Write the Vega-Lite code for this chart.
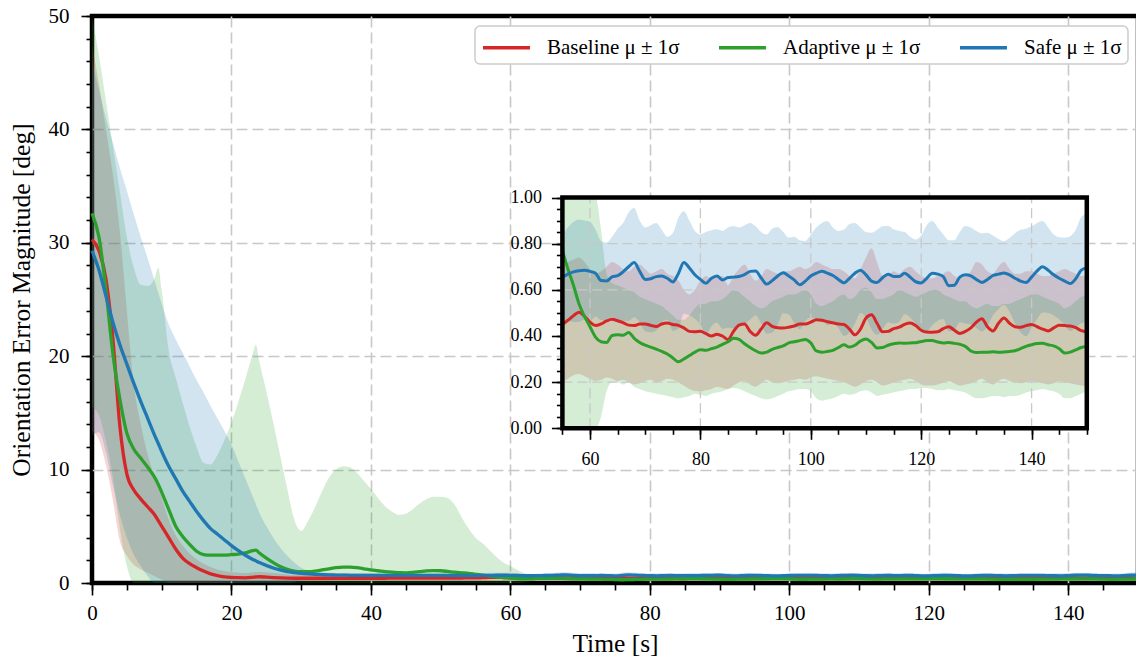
{
"$schema": "https://vega.github.io/schema/vega-lite/v6.json",
"width": 1046,
"height": 567,
"autosize": {"type": "none"},
"padding": {"left": 92, "top": 16, "right": -2, "bottom": 80},
"background": "white",
"config": {
  "font": "Liberation Serif",
  "view": {"stroke": "black", "strokeWidth": 4.5},
  "axis": {"labelFont": "Liberation Serif", "titleFont": "Liberation Serif", "labelColor": "black", "titleColor": "black", "titleFontWeight": "normal", "tickColor": "black", "tickWidth": 1.6, "domain": false, "gridColor": "#c8c8c8", "gridDash": [11, 5], "gridWidth": 1.6, "labelOverlap": false, "labelFlush": false},
  "legend": {"orient": "top-right", "direction": "horizontal", "offset": 10, "padding": 6, "strokeColor": "#cccccc", "strokeWidth": 1.5, "cornerRadius": 5, "fillColor": "white", "labelFont": "Liberation Serif", "labelFontSize": 21, "labelColor": "black", "symbolSize": 729, "symbolStrokeWidth": 3.5, "symbolType": "M-1,0H2.48", "labelOffset": 35, "columnPadding": 32, "labelLimit": 300}
},
"datasets": {
"ts": [
{"t":0,"rm":30.3,"rl":13.4,"rh":47.5,"gm":32.6,"gl":15.5,"gh":50,"bm":29.3,"bl":13,"bh":46},
{"t":1,"rm":29.3,"rl":12.6,"rh":44,"gm":30.5,"gl":14.8,"gh":46.5,"bm":27.6,"bl":13.3,"bh":43.5},
{"t":2,"rm":26.8,"rl":10.4,"rh":40,"gm":25.8,"gl":12.5,"gh":42.5,"bm":25.3,"bl":11.5,"bh":41},
{"t":3,"rm":21.5,"rl":7.3,"rh":36,"gm":20.2,"gl":9.3,"gh":38.5,"bm":23,"bl":8.6,"bh":38.8},
{"t":4,"rm":13.8,"rl":3.7,"rh":31,"gm":16.2,"gl":4.8,"gh":34.5,"bm":21,"bl":6,"bh":36.6},
{"t":5,"rm":9.6,"rl":2.4,"rh":24,"gm":13.2,"gl":1.5,"gh":30.5,"bm":19.3,"bl":4,"bh":34.6},
{"t":6,"rm":8.2,"rl":1.6,"rh":17.5,"gm":11.8,"gl":0,"gh":27.8,"bm":17.6,"bl":2.5,"bh":32.5},
{"t":7,"rm":7.4,"rl":1.2,"rh":14,"gm":11,"gl":0,"gh":26.3,"bm":16,"bl":1.5,"bh":30.5},
{"t":8,"rm":6.7,"rl":0.9,"rh":11.3,"gm":10.2,"gl":0,"gh":26.2,"bm":14.5,"bl":0.6,"bh":28.6},
{"t":9,"rm":6,"rl":0.6,"rh":9.3,"gm":9.3,"gl":0,"gh":26.9,"bm":13,"bl":0,"bh":26.6},
{"t":9.5,"rm":5.5,"rl":0.45,"rh":8.4,"gm":8.7,"gl":0,"gh":27.8,"bm":12.3,"bl":0,"bh":25.6},
{"t":10,"rm":5,"rl":0.3,"rh":7.5,"gm":8,"gl":0,"gh":25.8,"bm":11.6,"bl":0,"bh":24.6},
{"t":11,"rm":4,"rl":0,"rh":5.6,"gm":6.5,"gl":0,"gh":20.5,"bm":10.3,"bl":0,"bh":22.8},
{"t":12,"rm":3,"rl":0,"rh":4.2,"gm":5,"gl":0,"gh":18.1,"bm":9.2,"bl":0,"bh":21.5},
{"t":13,"rm":2.2,"rl":0,"rh":3.3,"gm":4.1,"gl":0,"gh":15.9,"bm":8.1,"bl":0,"bh":20.3},
{"t":14,"rm":1.7,"rl":0,"rh":2.6,"gm":3.4,"gl":0,"gh":13.8,"bm":7.2,"bl":0,"bh":19.1},
{"t":15,"rm":1.35,"rl":0,"rh":2.1,"gm":2.8,"gl":0,"gh":12,"bm":6.3,"bl":0,"bh":17.9},
{"t":16,"rm":1.05,"rl":0,"rh":1.7,"gm":2.5,"gl":0,"gh":10.6,"bm":5.5,"bl":0,"bh":16.8},
{"t":17,"rm":0.8,"rl":0,"rh":1.4,"gm":2.45,"gl":0,"gh":10.45,"bm":4.8,"bl":0,"bh":15.6},
{"t":18,"rm":0.65,"rl":0,"rh":1.2,"gm":2.45,"gl":0,"gh":11.3,"bm":4.3,"bl":0,"bh":14.5},
{"t":19,"rm":0.55,"rl":0,"rh":1.05,"gm":2.45,"gl":0,"gh":12.6,"bm":3.8,"bl":0,"bh":13.4},
{"t":20,"rm":0.5,"rl":0.05,"rh":0.95,"gm":2.5,"gl":0,"gh":14.1,"bm":3.3,"bl":0,"bh":12.2},
{"t":21,"rm":0.47,"rl":0.05,"rh":0.9,"gm":2.55,"gl":0,"gh":16,"bm":2.85,"bl":0,"bh":10.7},
{"t":22,"rm":0.46,"rl":0.05,"rh":0.88,"gm":2.65,"gl":0,"gh":18,"bm":2.45,"bl":0,"bh":9.2},
{"t":23,"rm":0.5,"rl":0.08,"rh":0.92,"gm":2.85,"gl":0,"gh":20.1,"bm":2.1,"bl":0,"bh":7.7},
{"t":23.5,"rm":0.53,"rl":0.09,"rh":0.96,"gm":2.9,"gl":0,"gh":21,"bm":1.95,"bl":0,"bh":6.95},
{"t":24,"rm":0.55,"rl":0.1,"rh":1,"gm":2.65,"gl":0,"gh":19.5,"bm":1.8,"bl":0,"bh":6.2},
{"t":25,"rm":0.52,"rl":0.1,"rh":0.95,"gm":2.2,"gl":0,"gh":16.9,"bm":1.55,"bl":0,"bh":5},
{"t":26,"rm":0.48,"rl":0.1,"rh":0.88,"gm":1.8,"gl":0,"gh":14.1,"bm":1.32,"bl":0,"bh":4},
{"t":27,"rm":0.45,"rl":0.1,"rh":0.82,"gm":1.45,"gl":0,"gh":11.2,"bm":1.15,"bl":0,"bh":3.1},
{"t":28,"rm":0.43,"rl":0.12,"rh":0.76,"gm":1.2,"gl":0,"gh":8.3,"bm":1,"bl":0,"bh":2.4},
{"t":29,"rm":0.42,"rl":0.13,"rh":0.72,"gm":1.05,"gl":0,"gh":5.6,"bm":0.92,"bl":0.05,"bh":1.8},
{"t":30,"rm":0.42,"rl":0.15,"rh":0.7,"gm":1,"gl":0,"gh":4.6,"bm":0.85,"bl":0.3,"bh":1.35},
{"t":31,"rm":0.42,"rl":0.16,"rh":0.69,"gm":1,"gl":0,"gh":5.5,"bm":0.8,"bl":0.45,"bh":1.1},
{"t":32,"rm":0.42,"rl":0.17,"rh":0.68,"gm":1.05,"gl":0,"gh":6.7,"bm":0.76,"bl":0.5,"bh":1},
{"t":33,"rm":0.42,"rl":0.18,"rh":0.68,"gm":1.15,"gl":0,"gh":8.1,"bm":0.73,"bl":0.5,"bh":0.95},
{"t":34,"rm":0.42,"rl":0.18,"rh":0.67,"gm":1.25,"gl":0,"gh":9.3,"bm":0.71,"bl":0.5,"bh":0.9},
{"t":35,"rm":0.42,"rl":0.19,"rh":0.67,"gm":1.35,"gl":0,"gh":10,"bm":0.7,"bl":0.5,"bh":0.89},
{"t":36,"rm":0.42,"rl":0.19,"rh":0.67,"gm":1.4,"gl":0,"gh":10.3,"bm":0.69,"bl":0.49,"bh":0.88},
{"t":37,"rm":0.42,"rl":0.19,"rh":0.67,"gm":1.4,"gl":0,"gh":10.2,"bm":0.68,"bl":0.48,"bh":0.88},
{"t":38,"rm":0.42,"rl":0.2,"rh":0.67,"gm":1.35,"gl":0,"gh":9.7,"bm":0.68,"bl":0.48,"bh":0.88},
{"t":39,"rm":0.42,"rl":0.2,"rh":0.67,"gm":1.25,"gl":0,"gh":9,"bm":0.68,"bl":0.48,"bh":0.88},
{"t":40,"rm":0.42,"rl":0.2,"rh":0.67,"gm":1.15,"gl":0,"gh":8.3,"bm":0.68,"bl":0.47,"bh":0.88},
{"t":41,"rm":0.42,"rl":0.2,"rh":0.67,"gm":1.08,"gl":0,"gh":7.5,"bm":0.67,"bl":0.47,"bh":0.87},
{"t":42,"rm":0.42,"rl":0.2,"rh":0.67,"gm":1,"gl":0,"gh":6.8,"bm":0.67,"bl":0.47,"bh":0.87},
{"t":43,"rm":0.43,"rl":0.2,"rh":0.67,"gm":0.95,"gl":0,"gh":6.3,"bm":0.67,"bl":0.47,"bh":0.87},
{"t":44,"rm":0.43,"rl":0.2,"rh":0.67,"gm":0.92,"gl":0,"gh":6,"bm":0.67,"bl":0.47,"bh":0.87},
{"t":45,"rm":0.43,"rl":0.2,"rh":0.67,"gm":0.9,"gl":0,"gh":6.1,"bm":0.67,"bl":0.47,"bh":0.87},
{"t":46,"rm":0.43,"rl":0.2,"rh":0.67,"gm":0.93,"gl":0,"gh":6.5,"bm":0.67,"bl":0.47,"bh":0.87},
{"t":47,"rm":0.43,"rl":0.2,"rh":0.67,"gm":1,"gl":0,"gh":7,"bm":0.67,"bl":0.47,"bh":0.87},
{"t":48,"rm":0.43,"rl":0.2,"rh":0.68,"gm":1.07,"gl":0,"gh":7.4,"bm":0.67,"bl":0.47,"bh":0.87},
{"t":49,"rm":0.44,"rl":0.2,"rh":0.68,"gm":1.1,"gl":0,"gh":7.6,"bm":0.67,"bl":0.47,"bh":0.87},
{"t":50,"rm":0.44,"rl":0.2,"rh":0.68,"gm":1.08,"gl":0,"gh":7.6,"bm":0.67,"bl":0.47,"bh":0.87},
{"t":51,"rm":0.44,"rl":0.2,"rh":0.68,"gm":1.02,"gl":0,"gh":7.5,"bm":0.66,"bl":0.47,"bh":0.86},
{"t":52,"rm":0.44,"rl":0.2,"rh":0.69,"gm":0.95,"gl":0,"gh":6.9,"bm":0.66,"bl":0.47,"bh":0.86},
{"t":53,"rm":0.44,"rl":0.2,"rh":0.69,"gm":0.9,"gl":0,"gh":5.8,"bm":0.66,"bl":0.47,"bh":0.85},
{"t":54,"rm":0.45,"rl":0.2,"rh":0.7,"gm":0.85,"gl":0,"gh":4.8,"bm":0.66,"bl":0.47,"bh":0.85},
{"t":55,"rm":0.45,"rl":0.2,"rh":0.7,"gm":0.77,"gl":0,"gh":4,"bm":0.655,"bl":0.47,"bh":0.84},
{"t":56,"rm":0.468,"rl":0.215,"rh":0.72,"gm":0.69,"gl":0,"gh":3.5,"bm":0.668,"bl":0.466,"bh":0.87},
{"t":57,"rm":0.488,"rl":0.23,"rh":0.73,"gm":0.62,"gl":0,"gh":2.9,"bm":0.678,"bl":0.461,"bh":0.895},
{"t":58,"rm":0.503,"rl":0.235,"rh":0.74,"gm":0.54,"gl":0,"gh":2.3,"bm":0.683,"bl":0.461,"bh":0.905},
{"t":59,"rm":0.485,"rl":0.225,"rh":0.72,"gm":0.485,"gl":0,"gh":1.8,"bm":0.685,"bl":0.47,"bh":0.9},
{"t":60,"rm":0.46,"rl":0.215,"rh":0.69,"gm":0.44,"gl":0,"gh":1.5,"bm":0.68,"bl":0.465,"bh":0.895},
{"t":61,"rm":0.445,"rl":0.205,"rh":0.67,"gm":0.395,"gl":0,"gh":1.15,"bm":0.672,"bl":0.484,"bh":0.86},
{"t":62,"rm":0.452,"rl":0.21,"rh":0.68,"gm":0.375,"gl":0.05,"gh":0.86,"bm":0.64,"bl":0.468,"bh":0.812},
{"t":63,"rm":0.465,"rl":0.22,"rh":0.7,"gm":0.372,"gl":0.16,"gh":0.67,"bm":0.638,"bl":0.471,"bh":0.805},
{"t":64,"rm":0.472,"rl":0.215,"rh":0.72,"gm":0.402,"gl":0.2,"gh":0.63,"bm":0.656,"bl":0.482,"bh":0.83},
{"t":65,"rm":0.466,"rl":0.205,"rh":0.71,"gm":0.405,"gl":0.2,"gh":0.62,"bm":0.661,"bl":0.457,"bh":0.865},
{"t":66,"rm":0.458,"rl":0.21,"rh":0.69,"gm":0.403,"gl":0.19,"gh":0.61,"bm":0.678,"bl":0.466,"bh":0.89},
{"t":67,"rm":0.447,"rl":0.2,"rh":0.68,"gm":0.415,"gl":0.2,"gh":0.6,"bm":0.7,"bl":0.465,"bh":0.935},
{"t":68,"rm":0.445,"rl":0.19,"rh":0.7,"gm":0.39,"gl":0.18,"gh":0.59,"bm":0.718,"bl":0.481,"bh":0.955},
{"t":69,"rm":0.452,"rl":0.195,"rh":0.71,"gm":0.372,"gl":0.17,"gh":0.57,"bm":0.68,"bl":0.46,"bh":0.9},
{"t":70,"rm":0.452,"rl":0.205,"rh":0.69,"gm":0.36,"gl":0.16,"gh":0.56,"bm":0.645,"bl":0.42,"bh":0.87},
{"t":71,"rm":0.446,"rl":0.21,"rh":0.67,"gm":0.352,"gl":0.155,"gh":0.55,"bm":0.648,"bl":0.416,"bh":0.88},
{"t":72,"rm":0.441,"rl":0.2,"rh":0.68,"gm":0.343,"gl":0.15,"gh":0.54,"bm":0.657,"bl":0.424,"bh":0.89},
{"t":73,"rm":0.452,"rl":0.205,"rh":0.69,"gm":0.333,"gl":0.145,"gh":0.53,"bm":0.66,"bl":0.46,"bh":0.86},
{"t":74,"rm":0.456,"rl":0.215,"rh":0.67,"gm":0.322,"gl":0.14,"gh":0.51,"bm":0.65,"bl":0.47,"bh":0.83},
{"t":75,"rm":0.45,"rl":0.21,"rh":0.66,"gm":0.305,"gl":0.135,"gh":0.49,"bm":0.634,"bl":0.423,"bh":0.845},
{"t":76,"rm":0.446,"rl":0.2,"rh":0.64,"gm":0.288,"gl":0.13,"gh":0.47,"bm":0.67,"bl":0.43,"bh":0.91},
{"t":77,"rm":0.435,"rl":0.185,"rh":0.6,"gm":0.3,"gl":0.135,"gh":0.47,"bm":0.718,"bl":0.496,"bh":0.94},
{"t":78,"rm":0.42,"rl":0.17,"rh":0.58,"gm":0.315,"gl":0.14,"gh":0.49,"bm":0.695,"bl":0.49,"bh":0.9},
{"t":79,"rm":0.418,"rl":0.162,"rh":0.6,"gm":0.33,"gl":0.15,"gh":0.52,"bm":0.665,"bl":0.475,"bh":0.855},
{"t":80,"rm":0.42,"rl":0.16,"rh":0.64,"gm":0.34,"gl":0.145,"gh":0.54,"bm":0.645,"bl":0.45,"bh":0.84},
{"t":81,"rm":0.41,"rl":0.165,"rh":0.66,"gm":0.338,"gl":0.14,"gh":0.54,"bm":0.628,"bl":0.406,"bh":0.85},
{"t":82,"rm":0.4,"rl":0.17,"rh":0.65,"gm":0.345,"gl":0.15,"gh":0.55,"bm":0.65,"bl":0.442,"bh":0.858},
{"t":83,"rm":0.408,"rl":0.18,"rh":0.66,"gm":0.352,"gl":0.155,"gh":0.55,"bm":0.66,"bl":0.458,"bh":0.862},
{"t":84,"rm":0.4,"rl":0.175,"rh":0.66,"gm":0.364,"gl":0.16,"gh":0.56,"bm":0.643,"bl":0.431,"bh":0.855},
{"t":85,"rm":0.385,"rl":0.17,"rh":0.62,"gm":0.375,"gl":0.17,"gh":0.58,"bm":0.653,"bl":0.436,"bh":0.87},
{"t":86,"rm":0.42,"rl":0.185,"rh":0.66,"gm":0.39,"gl":0.175,"gh":0.6,"bm":0.655,"bl":0.434,"bh":0.876},
{"t":87,"rm":0.447,"rl":0.2,"rh":0.69,"gm":0.385,"gl":0.17,"gh":0.59,"bm":0.658,"bl":0.446,"bh":0.87},
{"t":88,"rm":0.452,"rl":0.205,"rh":0.71,"gm":0.366,"gl":0.16,"gh":0.57,"bm":0.666,"bl":0.452,"bh":0.88},
{"t":89,"rm":0.42,"rl":0.19,"rh":0.67,"gm":0.35,"gl":0.15,"gh":0.55,"bm":0.68,"bl":0.47,"bh":0.89},
{"t":90,"rm":0.403,"rl":0.18,"rh":0.64,"gm":0.336,"gl":0.14,"gh":0.53,"bm":0.682,"bl":0.489,"bh":0.875},
{"t":91,"rm":0.43,"rl":0.195,"rh":0.66,"gm":0.326,"gl":0.13,"gh":0.52,"bm":0.652,"bl":0.454,"bh":0.85},
{"t":92,"rm":0.457,"rl":0.21,"rh":0.69,"gm":0.33,"gl":0.125,"gh":0.53,"bm":0.625,"bl":0.41,"bh":0.84},
{"t":93,"rm":0.442,"rl":0.2,"rh":0.68,"gm":0.342,"gl":0.13,"gh":0.55,"bm":0.64,"bl":0.415,"bh":0.865},
{"t":94,"rm":0.436,"rl":0.195,"rh":0.67,"gm":0.35,"gl":0.14,"gh":0.56,"bm":0.66,"bl":0.448,"bh":0.872},
{"t":95,"rm":0.435,"rl":0.2,"rh":0.68,"gm":0.357,"gl":0.15,"gh":0.57,"bm":0.674,"bl":0.498,"bh":0.85},
{"t":96,"rm":0.438,"rl":0.205,"rh":0.68,"gm":0.37,"gl":0.16,"gh":0.58,"bm":0.66,"bl":0.494,"bh":0.826},
{"t":97,"rm":0.443,"rl":0.21,"rh":0.69,"gm":0.375,"gl":0.165,"gh":0.58,"bm":0.643,"bl":0.456,"bh":0.83},
{"t":98,"rm":0.452,"rl":0.215,"rh":0.7,"gm":0.38,"gl":0.17,"gh":0.59,"bm":0.622,"bl":0.429,"bh":0.815},
{"t":99,"rm":0.452,"rl":0.21,"rh":0.69,"gm":0.385,"gl":0.17,"gh":0.6,"bm":0.638,"bl":0.464,"bh":0.812},
{"t":100,"rm":0.46,"rl":0.22,"rh":0.7,"gm":0.37,"gl":0.16,"gh":0.58,"bm":0.66,"bl":0.48,"bh":0.84},
{"t":101,"rm":0.47,"rl":0.225,"rh":0.72,"gm":0.335,"gl":0.13,"gh":0.54,"bm":0.672,"bl":0.474,"bh":0.87},
{"t":102,"rm":0.468,"rl":0.22,"rh":0.71,"gm":0.33,"gl":0.12,"gh":0.53,"bm":0.681,"bl":0.472,"bh":0.89},
{"t":103,"rm":0.462,"rl":0.215,"rh":0.7,"gm":0.333,"gl":0.125,"gh":0.54,"bm":0.672,"bl":0.446,"bh":0.898},
{"t":104,"rm":0.457,"rl":0.21,"rh":0.69,"gm":0.338,"gl":0.13,"gh":0.55,"bm":0.662,"bl":0.454,"bh":0.87},
{"t":105,"rm":0.452,"rl":0.205,"rh":0.69,"gm":0.35,"gl":0.14,"gh":0.57,"bm":0.645,"bl":0.435,"bh":0.855},
{"t":106,"rm":0.45,"rl":0.2,"rh":0.68,"gm":0.362,"gl":0.15,"gh":0.58,"bm":0.63,"bl":0.4,"bh":0.86},
{"t":107,"rm":0.43,"rl":0.19,"rh":0.66,"gm":0.352,"gl":0.145,"gh":0.56,"bm":0.65,"bl":0.415,"bh":0.885},
{"t":108,"rm":0.405,"rl":0.18,"rh":0.65,"gm":0.36,"gl":0.15,"gh":0.57,"bm":0.672,"bl":0.454,"bh":0.89},
{"t":109,"rm":0.43,"rl":0.19,"rh":0.69,"gm":0.378,"gl":0.16,"gh":0.6,"bm":0.685,"bl":0.5,"bh":0.87},
{"t":110,"rm":0.478,"rl":0.205,"rh":0.74,"gm":0.387,"gl":0.165,"gh":0.61,"bm":0.665,"bl":0.48,"bh":0.85},
{"t":111,"rm":0.492,"rl":0.21,"rh":0.78,"gm":0.372,"gl":0.155,"gh":0.59,"bm":0.638,"bl":0.429,"bh":0.847},
{"t":112,"rm":0.455,"rl":0.2,"rh":0.72,"gm":0.348,"gl":0.14,"gh":0.56,"bm":0.632,"bl":0.404,"bh":0.86},
{"t":113,"rm":0.418,"rl":0.185,"rh":0.66,"gm":0.35,"gl":0.145,"gh":0.56,"bm":0.652,"bl":0.429,"bh":0.875},
{"t":114,"rm":0.42,"rl":0.19,"rh":0.66,"gm":0.36,"gl":0.15,"gh":0.57,"bm":0.668,"bl":0.46,"bh":0.876},
{"t":115,"rm":0.432,"rl":0.2,"rh":0.68,"gm":0.366,"gl":0.155,"gh":0.58,"bm":0.658,"bl":0.454,"bh":0.862},
{"t":116,"rm":0.438,"rl":0.205,"rh":0.67,"gm":0.37,"gl":0.16,"gh":0.6,"bm":0.658,"bl":0.461,"bh":0.855},
{"t":117,"rm":0.45,"rl":0.21,"rh":0.69,"gm":0.368,"gl":0.165,"gh":0.59,"bm":0.672,"bl":0.494,"bh":0.85},
{"t":118,"rm":0.456,"rl":0.215,"rh":0.7,"gm":0.37,"gl":0.17,"gh":0.58,"bm":0.655,"bl":0.48,"bh":0.83},
{"t":119,"rm":0.445,"rl":0.205,"rh":0.68,"gm":0.371,"gl":0.17,"gh":0.57,"bm":0.635,"bl":0.452,"bh":0.818},
{"t":120,"rm":0.425,"rl":0.19,"rh":0.66,"gm":0.376,"gl":0.175,"gh":0.58,"bm":0.63,"bl":0.425,"bh":0.835},
{"t":121,"rm":0.417,"rl":0.185,"rh":0.65,"gm":0.38,"gl":0.175,"gh":0.59,"bm":0.65,"bl":0.42,"bh":0.88},
{"t":122,"rm":0.416,"rl":0.185,"rh":0.65,"gm":0.38,"gl":0.17,"gh":0.6,"bm":0.672,"bl":0.446,"bh":0.898},
{"t":123,"rm":0.418,"rl":0.19,"rh":0.66,"gm":0.374,"gl":0.165,"gh":0.6,"bm":0.668,"bl":0.466,"bh":0.87},
{"t":124,"rm":0.432,"rl":0.2,"rh":0.67,"gm":0.37,"gl":0.165,"gh":0.58,"bm":0.657,"bl":0.474,"bh":0.84},
{"t":125,"rm":0.44,"rl":0.205,"rh":0.68,"gm":0.372,"gl":0.17,"gh":0.57,"bm":0.618,"bl":0.421,"bh":0.815},
{"t":126,"rm":0.425,"rl":0.195,"rh":0.66,"gm":0.368,"gl":0.165,"gh":0.56,"bm":0.62,"bl":0.425,"bh":0.815},
{"t":127,"rm":0.411,"rl":0.185,"rh":0.65,"gm":0.364,"gl":0.16,"gh":0.55,"bm":0.655,"bl":0.46,"bh":0.85},
{"t":128,"rm":0.42,"rl":0.19,"rh":0.66,"gm":0.355,"gl":0.155,"gh":0.55,"bm":0.665,"bl":0.454,"bh":0.876},
{"t":129,"rm":0.435,"rl":0.195,"rh":0.68,"gm":0.335,"gl":0.14,"gh":0.53,"bm":0.66,"bl":0.45,"bh":0.87},
{"t":130,"rm":0.46,"rl":0.205,"rh":0.72,"gm":0.328,"gl":0.13,"gh":0.52,"bm":0.645,"bl":0.435,"bh":0.855},
{"t":131,"rm":0.475,"rl":0.215,"rh":0.71,"gm":0.33,"gl":0.13,"gh":0.53,"bm":0.632,"bl":0.419,"bh":0.845},
{"t":132,"rm":0.44,"rl":0.2,"rh":0.68,"gm":0.33,"gl":0.135,"gh":0.54,"bm":0.645,"bl":0.443,"bh":0.847},
{"t":133,"rm":0.422,"rl":0.19,"rh":0.67,"gm":0.332,"gl":0.14,"gh":0.53,"bm":0.662,"bl":0.489,"bh":0.835},
{"t":134,"rm":0.455,"rl":0.205,"rh":0.7,"gm":0.33,"gl":0.14,"gh":0.53,"bm":0.668,"bl":0.516,"bh":0.82},
{"t":135,"rm":0.478,"rl":0.215,"rh":0.72,"gm":0.331,"gl":0.135,"gh":0.54,"bm":0.673,"bl":0.535,"bh":0.811},
{"t":136,"rm":0.455,"rl":0.205,"rh":0.69,"gm":0.333,"gl":0.14,"gh":0.54,"bm":0.665,"bl":0.505,"bh":0.825},
{"t":137,"rm":0.44,"rl":0.2,"rh":0.67,"gm":0.336,"gl":0.14,"gh":0.55,"bm":0.65,"bl":0.455,"bh":0.845},
{"t":138,"rm":0.438,"rl":0.195,"rh":0.67,"gm":0.345,"gl":0.145,"gh":0.56,"bm":0.638,"bl":0.416,"bh":0.86},
{"t":139,"rm":0.445,"rl":0.2,"rh":0.68,"gm":0.355,"gl":0.155,"gh":0.57,"bm":0.632,"bl":0.399,"bh":0.865},
{"t":140,"rm":0.45,"rl":0.205,"rh":0.68,"gm":0.362,"gl":0.16,"gh":0.58,"bm":0.655,"bl":0.435,"bh":0.875},
{"t":141,"rm":0.44,"rl":0.2,"rh":0.67,"gm":0.367,"gl":0.165,"gh":0.58,"bm":0.682,"bl":0.474,"bh":0.89},
{"t":142,"rm":0.43,"rl":0.195,"rh":0.66,"gm":0.368,"gl":0.17,"gh":0.57,"bm":0.7,"bl":0.502,"bh":0.898},
{"t":143,"rm":0.422,"rl":0.19,"rh":0.66,"gm":0.362,"gl":0.165,"gh":0.56,"bm":0.685,"bl":0.5,"bh":0.87},
{"t":144,"rm":0.435,"rl":0.195,"rh":0.67,"gm":0.357,"gl":0.16,"gh":0.55,"bm":0.665,"bl":0.49,"bh":0.84},
{"t":145,"rm":0.446,"rl":0.205,"rh":0.68,"gm":0.345,"gl":0.15,"gh":0.54,"bm":0.65,"bl":0.472,"bh":0.828},
{"t":146,"rm":0.445,"rl":0.2,"rh":0.69,"gm":0.326,"gl":0.13,"gh":0.52,"bm":0.638,"bl":0.45,"bh":0.826},
{"t":147,"rm":0.443,"rl":0.195,"rh":0.68,"gm":0.33,"gl":0.13,"gh":0.53,"bm":0.627,"bl":0.422,"bh":0.832},
{"t":148,"rm":0.436,"rl":0.19,"rh":0.67,"gm":0.34,"gl":0.14,"gh":0.55,"bm":0.648,"bl":0.436,"bh":0.86},
{"t":149,"rm":0.423,"rl":0.185,"rh":0.66,"gm":0.35,"gl":0.15,"gh":0.57,"bm":0.685,"bl":0.455,"bh":0.915},
{"t":150,"rm":0.418,"rl":0.18,"rh":0.66,"gm":0.356,"gl":0.16,"gh":0.58,"bm":0.695,"bl":0.46,"bh":0.93}
]
},
"data": {"name": "ts"},
"layer": [
{
  "encoding": {
    "x": {"field": "t", "type": "quantitative",
      "scale": {"domain": [0, 150], "nice": false, "zero": false},
      "axis": {"orient": "bottom", "values": [0,20,40,60,80,100,120,140],
        "labelOverlap": false, "labelFlush": false, "tickSize": 12,
        "gridOpacity": {"condition": {"test": "datum.value > 0", "value": 1}, "value": 0},
        "grid": true, "title": "Time [s]", "titleFontSize": 25.5, "titlePadding": 8, "labelFontSize": 21, "labelPadding": 7}}
  },
  "layer": [
    {"mark": {"type": "area", "color": "#d62728", "opacity": 0.2, "interpolate": "monotone"},
     "encoding": {"y": {"field": "rl", "type": "quantitative", "scale": {"domain": [0, 50], "nice": false, "zero": false, "clamp": true},
        "axis": {"orient": "left", "values": [0,10,20,30,40,50],
          "labelOverlap": false, "labelFlush": false, "tickSize": 11,
          "gridOpacity": {"condition": {"test": "datum.value > 0 && datum.value < 50", "value": 1}, "value": 0},
          "grid": true, "title": "Orientation Error Magnitude [deg]", "titleFontSize": 25.5, "titlePadding": 14, "labelFontSize": 21, "labelPadding": 12}},
       "y2": {"field": "rh"}}},
    {"mark": {"type": "area", "color": "#2ca02c", "opacity": 0.2, "interpolate": "monotone"},
     "encoding": {"y": {"field": "gl", "type": "quantitative"}, "y2": {"field": "gh"}}},
    {"mark": {"type": "area", "color": "#1f77b4", "opacity": 0.2, "interpolate": "monotone"},
     "encoding": {"y": {"field": "bl", "type": "quantitative"}, "y2": {"field": "bh"}}},
    {"mark": {"type": "line", "strokeWidth": 3.3, "interpolate": "monotone"},
     "encoding": {"y": {"field": "rm", "type": "quantitative"},
       "color": {"datum": "Baseline μ ± 1σ", "type": "nominal",
         "scale": {"domain": ["Baseline μ ± 1σ", "Adaptive μ ± 1σ", "Safe μ ± 1σ"], "range": ["#d62728", "#2ca02c", "#1f77b4"]},
         "legend": {"title": null}}}},
    {"mark": {"type": "line", "strokeWidth": 3.3, "interpolate": "monotone"},
     "encoding": {"y": {"field": "gm", "type": "quantitative"}, "color": {"datum": "Adaptive μ ± 1σ", "type": "nominal"}}},
    {"mark": {"type": "line", "strokeWidth": 3.3, "interpolate": "monotone"},
     "encoding": {"y": {"field": "bm", "type": "quantitative"}, "color": {"datum": "Safe μ ± 1σ", "type": "nominal"}}}
  ]
},
{
  "data": {"values": [{"a": 0, "b": 0}]},
  "mark": {"type": "point", "opacity": 0},
  "encoding": {
    "x": {"field": "a", "type": "quantitative", "scale": {"domain": [0, 150], "nice": false, "zero": false},
      "axis": {"orient": "bottom", "values": [0,5,10,15,20,25,30,35,40,45,50,55,60,65,70,75,80,85,90,95,100,105,110,115,120,125,130,135,140,145,150], "labels": false, "tickSize": 7, "grid": false, "title": null}},
    "y": {"field": "b", "type": "quantitative", "scale": {"domain": [0, 50], "nice": false, "zero": false},
      "axis": {"orient": "left", "values": [0,2,4,6,8,10,12,14,16,18,20,22,24,26,28,30,32,34,36,38,40,42,44,46,48,50], "labels": false, "tickSize": 6, "grid": false, "title": null}}
  }
},
{
  "layer": [
    {"data": {"values": [{"k": "bg"}]},
     "mark": {"type": "rect", "fill": "white"},
     "encoding": {
       "x": {"datum": 55, "type": "quantitative", "scale": {"domain": [55, 150], "range": [470.4, 994.8], "nice": false, "zero": false}},
       "x2": {"datum": 150},
       "y": {"datum": 0, "type": "quantitative", "scale": {"domain": [0, 1], "range": [412.3, 181.5], "nice": false, "zero": false, "clamp": true}},
       "y2": {"datum": 1}}},
    {"transform": [{"filter": "datum.t >= 55"}],
     "mark": {"type": "area", "color": "#d62728", "opacity": 0.2, "interpolate": "monotone"},
     "encoding": {
       "x": {"field": "t", "type": "quantitative", "scale": {"domain": [55, 150], "range": [470.4, 994.8], "nice": false, "zero": false},
         "axis": {"orient": "bottom", "offset": -154.7, "values": [60,80,100,120,140],
           "labelOverlap": false, "labelFlush": false, "tickSize": 11,
           "grid": false, "title": null, "labelFontSize": 18, "labelPadding": 11}},
       "y": {"field": "rl", "type": "quantitative", "scale": {"domain": [0, 1], "range": [412.3, 181.5], "nice": false, "zero": false, "clamp": true},
         "axis": {"orient": "left", "offset": -470.4, "values": [0,0.2,0.4,0.6,0.8,1], "format": ".2f",
           "labelOverlap": false, "labelFlush": false, "tickSize": 11,
           "grid": false, "title": null, "labelFontSize": 18, "labelPadding": 10}},
       "y2": {"field": "rh"}}},
    {"transform": [{"filter": "datum.t >= 55"}],
     "mark": {"type": "area", "color": "#2ca02c", "opacity": 0.2, "interpolate": "monotone"},
     "encoding": {"x": {"field": "t", "type": "quantitative"}, "y": {"field": "gl", "type": "quantitative"}, "y2": {"field": "gh"}}},
    {"transform": [{"filter": "datum.t >= 55"}],
     "mark": {"type": "area", "color": "#1f77b4", "opacity": 0.2, "interpolate": "monotone"},
     "encoding": {"x": {"field": "t", "type": "quantitative"}, "y": {"field": "bl", "type": "quantitative"}, "y2": {"field": "bh"}}},
    {"data": {"values": [{"g": 60}, {"g": 80}, {"g": 100}, {"g": 120}, {"g": 140}]},
     "mark": {"type": "rule", "color": "#c8c8c8", "strokeWidth": 1.3, "strokeDash": [10, 5]},
     "encoding": {"x": {"field": "g", "type": "quantitative"}, "y": {"datum": 0, "type": "quantitative"}, "y2": {"datum": 1}}},
    {"data": {"values": [{"h": 0.2}, {"h": 0.4}, {"h": 0.6}, {"h": 0.8}]},
     "mark": {"type": "rule", "color": "#c8c8c8", "strokeWidth": 1.3, "strokeDash": [10, 5]},
     "encoding": {"y": {"field": "h", "type": "quantitative"}, "x": {"datum": 55, "type": "quantitative"}, "x2": {"datum": 150}}},
    {"transform": [{"filter": "datum.t >= 55"}],
     "mark": {"type": "line", "color": "#d62728", "strokeWidth": 3, "interpolate": "monotone"},
     "encoding": {"x": {"field": "t", "type": "quantitative"}, "y": {"field": "rm", "type": "quantitative"}}},
    {"transform": [{"filter": "datum.t >= 55"}],
     "mark": {"type": "line", "color": "#2ca02c", "strokeWidth": 3, "interpolate": "monotone"},
     "encoding": {"x": {"field": "t", "type": "quantitative"}, "y": {"field": "gm", "type": "quantitative"}}},
    {"transform": [{"filter": "datum.t >= 55"}],
     "mark": {"type": "line", "color": "#1f77b4", "strokeWidth": 3, "interpolate": "monotone"},
     "encoding": {"x": {"field": "t", "type": "quantitative"}, "y": {"field": "bm", "type": "quantitative"}}},
    {"data": {"values": [{"k": "frame"}]},
     "mark": {"type": "rect", "filled": false, "stroke": "black", "strokeWidth": 4.5},
     "encoding": {"x": {"datum": 55, "type": "quantitative"}, "x2": {"datum": 150}, "y": {"datum": 0, "type": "quantitative"}, "y2": {"datum": 1}}}
  ]
},
{
  "data": {"values": [{"a": 55, "b": 0}]},
  "mark": {"type": "point", "opacity": 0},
  "encoding": {
    "x": {"field": "a", "type": "quantitative", "scale": {"domain": [55, 150], "range": [470.4, 994.8], "nice": false, "zero": false},
      "axis": {"orient": "bottom", "offset": -154.7, "values": [55,60,65,70,75,80,85,90,95,100,105,110,115,120,125,130,135,140,145,150], "labels": false, "tickSize": 6, "grid": false, "title": null}},
    "y": {"field": "b", "type": "quantitative", "scale": {"domain": [0, 1], "range": [412.3, 181.5], "nice": false, "zero": false},
      "axis": {"orient": "left", "offset": -470.4, "values": [0,0.05,0.1,0.15,0.2,0.25,0.3,0.35,0.4,0.45,0.5,0.55,0.6,0.65,0.7,0.75,0.8,0.85,0.9,0.95,1], "labels": false, "tickSize": 6, "grid": false, "title": null}}
  }
}
],
"resolve": {"scale": {"x": "independent", "y": "independent"}, "axis": {"x": "independent", "y": "independent"}}
}
